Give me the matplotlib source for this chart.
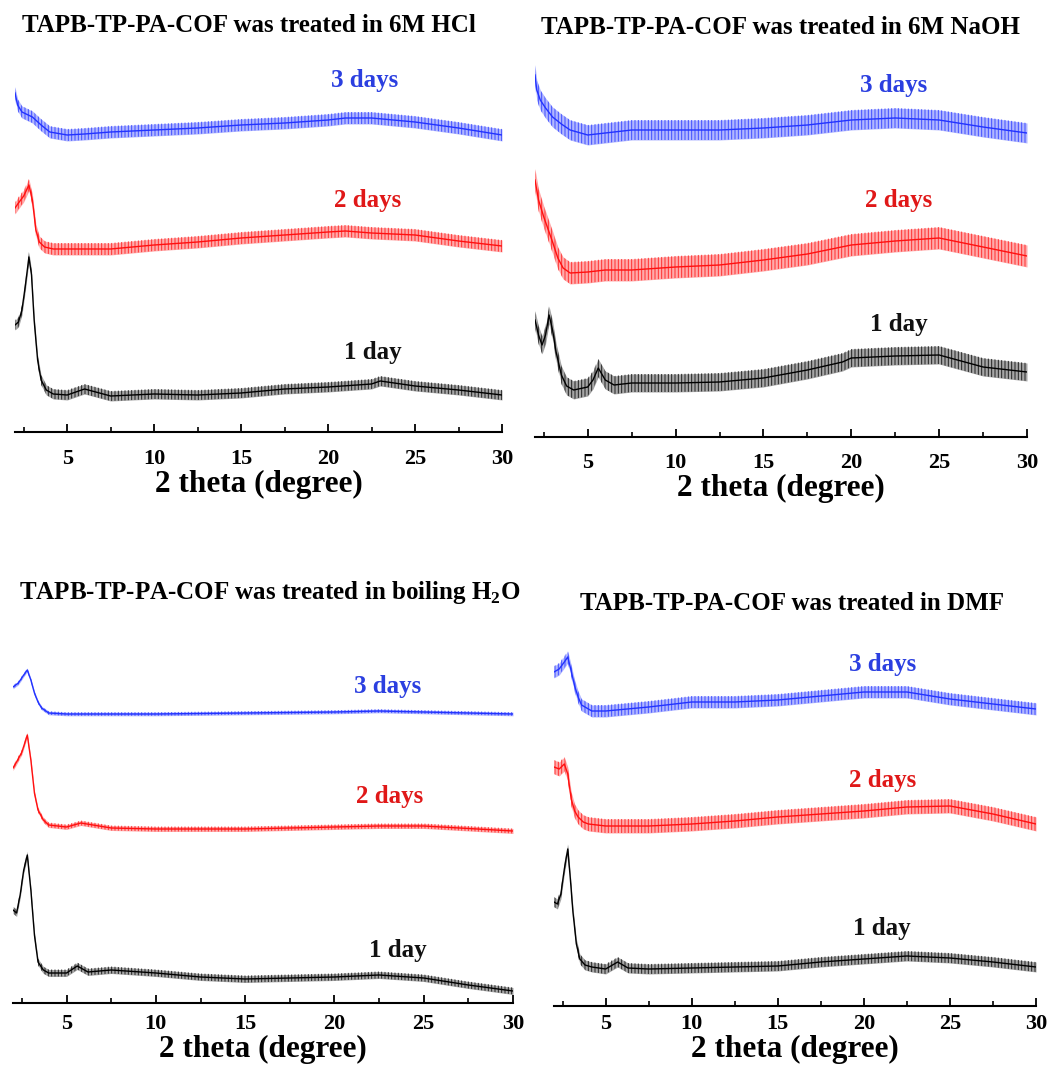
import matplotlib
matplotlib.use("Agg")
import matplotlib.pyplot as plt
from matplotlib.ticker import MultipleLocator

plt.rcParams["font.family"] = ["Liberation Serif", "DejaVu Serif"]
plt.rcParams["font.weight"] = "bold"
plt.rcParams["mathtext.fontset"] = "custom"
plt.rcParams["mathtext.rm"] = "Liberation Serif:bold"
plt.rcParams["mathtext.bf"] = "Liberation Serif:bold"
plt.rcParams["hatch.linewidth"] = 0.7

# ---- PXRD traces (2 theta in degrees, intensity in a.u.) ----
# 6M HCl
HCL_1D_X = [2.0, 2.2, 2.4, 2.6, 2.8, 2.95, 3.1, 3.3, 3.5, 3.8, 4.2, 5, 6, 7.5, 10, 12.5, 15, 17.5, 20, 22.5, 23, 25, 27.5, 30]
HCL_1D_Y = [107, 110, 122, 147, 175, 157, 112, 72, 52, 42, 38, 37, 43, 36, 38, 37, 39, 43, 45, 48, 51, 46, 42, 37]
HCL_2D_X = [2.0, 2.2, 2.5, 2.8, 3.0, 3.2, 3.4, 3.7, 4.2, 5, 7.5, 10, 12.5, 15, 17.5, 20, 21, 22.5, 25, 27.5, 30]
HCL_2D_Y = [224, 229, 236, 247, 232, 202, 190, 185, 183, 183, 183, 187, 190, 194, 197, 200, 201, 199, 197, 191, 186]
HCL_3D_X = [2.0, 2.15, 2.4, 3.0, 3.5, 4.0, 5.0, 6.0, 7.5, 10, 12.5, 15, 17.5, 20, 21, 22.5, 25, 27.5, 30]
HCL_3D_Y = [339, 327, 320, 315, 307, 300, 297, 298, 300, 302, 304, 307, 309, 312, 314, 314, 310, 304, 297]
HCL_SPREAD = [5, 6, 6]

# 6M NaOH
NAOH_1D_X = [2.0, 2.2, 2.4, 2.6, 2.8, 3.0, 3.2, 3.5, 3.8, 4.2, 5.0, 5.3, 5.6, 6.0, 6.5, 7.5, 10, 12.5, 15, 17.5, 19.5, 20, 22.5, 25, 27.5, 30]
NAOH_1D_Y = [117, 102, 92, 102, 122, 107, 85, 62, 51, 47, 50, 57, 69, 57, 52, 54, 54, 55, 59, 67, 75, 79, 81, 82, 70, 65]
NAOH_2D_X = [2.0, 2.2, 2.5, 2.8, 3.0, 3.3, 3.6, 4.0, 5, 6, 7.5, 10, 12.5, 15, 17.5, 20, 22.5, 25, 27.5, 30]
NAOH_2D_Y = [257, 237, 220, 205, 195, 179, 169, 164, 165, 167, 167, 170, 172, 177, 183, 192, 196, 199, 190, 181]
NAOH_3D_X = [2.0, 2.1, 2.3, 2.6, 3.0, 3.5, 4.0, 5, 6, 7.5, 10, 12.5, 15, 17.5, 20, 22.5, 25, 27.5, 30]
NAOH_3D_Y = [362, 347, 337, 329, 320, 313, 307, 302, 304, 307, 307, 307, 309, 312, 317, 319, 317, 310, 304]
NAOH_SPREAD = [9, 11, 10]

# boiling water
H2O_1D_X = [2.0, 2.2, 2.4, 2.6, 2.8, 3.0, 3.2, 3.4, 3.7, 4.0, 5, 5.6, 6.2, 7.5, 10, 12.5, 15, 17.5, 20, 22.5, 25, 27.5, 30]
H2O_1D_Y = [93, 90, 108, 133, 148, 113, 68, 41, 33, 30, 30, 37, 31, 33, 30, 26, 24, 25, 26, 28, 25, 18, 12]
H2O_2D_X = [2.0, 2.2, 2.5, 2.8, 3.0, 3.2, 3.4, 3.7, 4.0, 5, 5.8, 7.5, 10, 15, 20, 22.5, 25, 30]
H2O_2D_Y = [235, 241, 251, 268, 243, 210, 193, 183, 178, 176, 180, 175, 174, 174, 176, 177, 177, 172]
H2O_3D_X = [2.0, 2.3, 2.6, 2.8, 3.0, 3.2, 3.4, 3.6, 4.0, 5, 10, 15, 20, 22.5, 25, 30]
H2O_3D_Y = [316, 320, 328, 333, 323, 310, 301, 295, 290, 289, 289, 290, 291, 292, 291, 289]
H2O_SPREAD = [3.5, 2.5, 1.8]

# DMF
DMF_1D_X = [2.0, 2.2, 2.4, 2.6, 2.8, 2.95, 3.1, 3.3, 3.5, 3.8, 4.2, 5, 5.7, 6.3, 7.5, 10, 12.5, 15, 17.5, 20, 22.5, 25, 27.5, 30]
DMF_1D_Y = [104, 102, 112, 137, 157, 127, 94, 62, 47, 41, 39, 37, 44, 38, 37, 38, 39, 40, 44, 47, 50, 48, 44, 39]
DMF_2D_X = [2.0, 2.3, 2.6, 2.8, 3.0, 3.2, 3.4, 3.7, 4.0, 5, 7.5, 10, 12.5, 15, 17.5, 20, 22.5, 25, 27.5, 30]
DMF_2D_Y = [239, 237, 242, 232, 207, 195, 189, 184, 182, 180, 180, 182, 185, 189, 192, 195, 199, 200, 192, 182]
DMF_3D_X = [2.0, 2.3, 2.6, 2.8, 3.0, 3.2, 3.4, 3.6, 4.2, 5, 7.5, 10, 12.5, 15, 17.5, 20, 22.5, 25, 27.5, 30]
DMF_3D_Y = [334, 337, 344, 349, 335, 320, 309, 301, 295, 295, 299, 304, 304, 306, 310, 314, 314, 307, 302, 297]
DMF_SPREAD = [5, 7, 6]

DAY_LABELS = ["1 day", "2 days", "3 days"]
TITLES = [
    "TAPB-TP-PA-COF was treated in 6M HCl",
    "TAPB-TP-PA-COF was treated in 6M NaOH",
    r"TAPB-TP-PA-COF was treated in boiling H$_{\mathbf{2}}$O",
    "TAPB-TP-PA-COF was treated in DMF",
]
X_TICKS = [5, 10, 15, 20, 25, 30]

TRACE_COLORS = ["#000000", "#ff1010", "#2233ff"]
LABEL_COLORS = ["#111111", "#e01818", "#2b3fe0"]

W, H = 1049, 1067
fig = plt.figure(figsize=(W / 100, H / 100), dpi=100)
fig.patch.set_facecolor("white")

# panel boxes in pixels: left, right, top, bottom
panels = [
    dict(box=(15, 502, 60, 432),
         series=[(HCL_1D_X, HCL_1D_Y), (HCL_2D_X, HCL_2D_Y), (HCL_3D_X, HCL_3D_Y)],
         spread=HCL_SPREAD,
         labels=[(22.6, 80), (22.3, 232), (22.1, 352)],
         title_xy=(249, 25), pads=(12, 1)),
    dict(box=(535, 1027, 60, 437),
         series=[(NAOH_1D_X, NAOH_1D_Y), (NAOH_2D_X, NAOH_2D_Y), (NAOH_3D_X, NAOH_3D_Y)],
         spread=NAOH_SPREAD,
         labels=[(22.7, 112), (22.7, 237), (22.4, 352)],
         title_xy=(780, 28), pads=(11.5, 0.5)),
    dict(box=(13, 513, 640, 1003),
         series=[(H2O_1D_X, H2O_1D_Y), (H2O_2D_X, H2O_2D_Y), (H2O_3D_X, H2O_3D_Y)],
         spread=H2O_SPREAD,
         labels=[(23.55, 53), (23.1, 206), (23.0, 317)],
         title_xy=(270, 592), pads=(8, 0.5)),
    dict(box=(554, 1036, 640, 1006),
         series=[(DMF_1D_X, DMF_1D_Y), (DMF_2D_X, DMF_2D_Y), (DMF_3D_X, DMF_3D_Y)],
         spread=DMF_SPREAD,
         labels=[(21.07, 78), (21.1, 226), (21.1, 342)],
         title_xy=(792, 603), pads=(6, 0.5)),
]

for p, title in zip(panels, TITLES):
    l, r, t, b = p["box"]
    tick_pad, label_pad = p["pads"]
    ax = fig.add_axes([l / W, 1 - b / H, (r - l) / W, (b - t) / H])
    ax.set_xlim(2, 30)
    ax.set_ylim(0, b - t)
    for (xs, ys), s, c in zip(p["series"], p["spread"], TRACE_COLORS):
        lo = [v - s for v in ys]
        hi = [v + s for v in ys]
        # noise envelope: light fill with dense vertical hatching
        ax.fill_between(xs, lo, hi, color=c, alpha=0.35, lw=0)
        ax.fill_between(xs, lo, hi, facecolor="none", edgecolor=c, hatch="|||||",
                        lw=0, alpha=0.8)
        ax.plot(xs, ys, color=c, lw=1.0)
    for (lx, ly), txt, c in zip(p["labels"], DAY_LABELS, LABEL_COLORS):
        ax.text(lx, ly, txt, color=c, fontsize=18, fontweight="bold",
                ha="center", va="center")
    for side in ("top", "right", "left"):
        ax.spines[side].set_visible(False)
    ax.spines["bottom"].set_linewidth(1.5)
    ax.set_yticks([])
    ax.set_xticks(X_TICKS)
    ax.xaxis.set_minor_locator(MultipleLocator(2.5))
    ax.tick_params(axis="x", which="major", direction="in", length=6, width=1.3,
                   labelsize=16, pad=tick_pad)
    ax.tick_params(axis="x", which="minor", direction="in", length=3.5, width=1.2)
    for lab in ax.get_xticklabels():
        lab.set_fontweight("bold")
    ax.set_xlabel("2 theta (degree)", fontsize=22.5, fontweight="bold",
                  labelpad=label_pad)
    ax.patch.set_alpha(0)
    fig.text(p["title_xy"][0] / W, 1 - p["title_xy"][1] / H, title,
             fontsize=18, fontweight="bold", ha="center", va="center")

fig.savefig("out.png", dpi=100, facecolor="white")
